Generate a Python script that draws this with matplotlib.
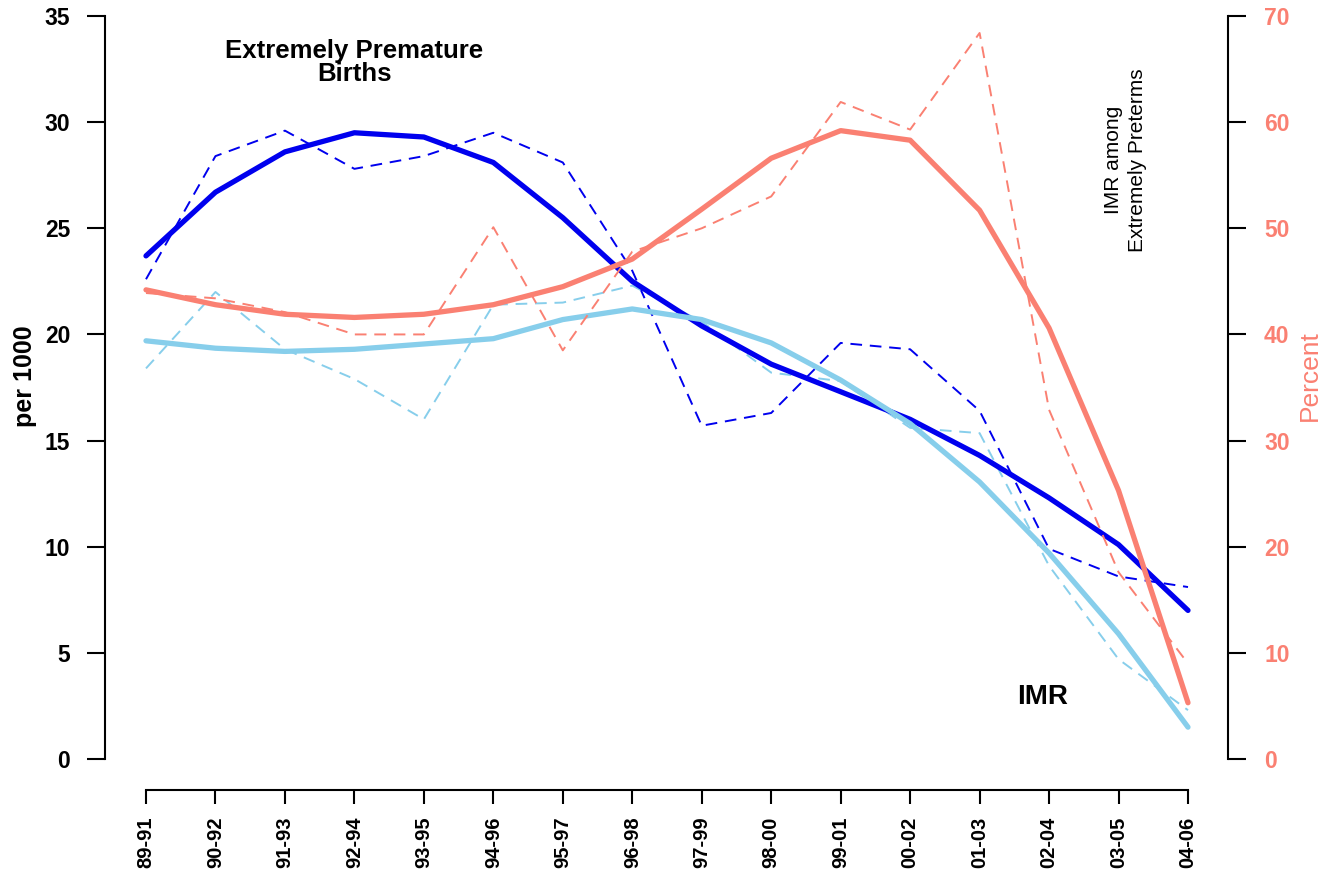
"""
Extremely premature births, IMR and IMR among extremely preterms (3-year periods)
"""
import matplotlib
matplotlib.use("Agg")
import matplotlib.pyplot as plt
import numpy as np

plt.rcParams['font.family'] = ['Liberation Sans', 'DejaVu Sans']

# periods on the x axis
periods = ["89-91", "90-92", "91-93", "92-94", "93-95", "94-96", "95-97", "96-98",
           "97-99", "98-00", "99-01", "00-02", "01-03", "02-04", "03-05", "04-06"]

# extremely premature births per 1000 (left axis)
epb_smooth = [23.7, 26.7, 28.6, 29.5, 29.3, 28.1, 25.5, 22.5,
              20.4, 18.6, 17.3, 16.0, 14.3, 12.3, 10.1, 7.0]
epb_raw = [22.6, 28.4, 29.6, 27.8, 28.4, 29.5, 28.1, 23.0,
           15.7, 16.3, 19.6, 19.3, 16.4, 9.9, 8.6, 8.1]

# infant mortality rate per 1000 (left axis)
imr_smooth = [19.7, 19.35, 19.2, 19.3, 19.55, 19.8, 20.7, 21.2,
              20.7, 19.6, 17.85, 15.8, 13.05, 9.7, 5.9, 1.5]
imr_raw = [18.4, 22.0, 19.3, 17.9, 16.0, 21.4, 21.5, 22.3,
           20.6, 18.2, 17.8, 15.6, 15.35, 9.1, 4.7, 2.3]

# IMR among extremely preterms, percent (right axis)
pct_smooth = [44.2, 42.8, 41.9, 41.6, 41.9, 42.8, 44.5, 47.1,
              51.8, 56.6, 59.2, 58.3, 51.7, 40.6, 25.3, 5.3]
pct_raw = [43.9, 43.4, 42.1, 40.0, 40.0, 50.1, 38.5, 47.8,
           50.0, 53.0, 61.9, 59.3, 68.4, 32.9, 17.6, 9.0]

DARK = "#0000EE"
LIGHT = "#87CEEB"
SALMON = "#FA8072"

x = np.arange(len(periods))

fig = plt.figure(figsize=(13.23, 8.69), dpi=100)
W, H = 1323.0, 869.0
# axes box in pixels: left 105, right 1228, top 16, bottom 790
ax = fig.add_axes([105 / W, 1 - 790 / H, (1228 - 105) / W, (790 - 16) / H])

xscale = (1188 - 146) / 15.0
ax.set_xlim(-(146 - 105) / xscale, 15 + (1228 - 1188) / xscale)
yscale = (759 - 16) / 35.0
ax.set_ylim(-(790 - 759) / yscale, 35)

solid = dict(lw=3.8, solid_capstyle='round', solid_joinstyle='round')
dashed = dict(lw=1.4, dashes=(6, 4))

ax.plot(x, epb_raw, color=DARK, **dashed)
ax.plot(x, imr_raw, color=LIGHT, **dashed)
ax.plot(x, epb_smooth, color=DARK, **solid)
ax.plot(x, imr_smooth, color=LIGHT, **solid)

ax2 = ax.twinx()
ax2.set_ylim(-2 * (790 - 759) / yscale, 70)
ax2.plot(x, pct_raw, color=SALMON, **dashed)
ax2.plot(x, pct_smooth, color=SALMON, **solid)

# R style detached axes
for a in (ax, ax2):
    a.spines['top'].set_visible(False)
ax.spines['right'].set_visible(False)
ax2.spines['left'].set_visible(False)
ax2.spines['bottom'].set_visible(False)
ax.spines['left'].set_bounds(0, 35)
ax.spines['bottom'].set_bounds(0, 15)
ax2.spines['right'].set_bounds(0, 70)
for sp in (ax.spines['left'], ax.spines['bottom'], ax2.spines['right']):
    sp.set_linewidth(1.5)

ax.set_yticks(np.arange(0, 36, 5))
ax.tick_params(axis='y', length=13, width=1.5, pad=12, labelsize=16.5)
for lab in ax.get_yticklabels():
    lab.set_fontweight('bold')

ax.set_xticks(x)
ax.set_xticklabels(periods, rotation=90, fontsize=14.5, fontweight='bold')
ax.tick_params(axis='x', length=10, width=1.5, pad=9)

ax2.set_yticks(np.arange(0, 71, 10))
ax2.tick_params(axis='y', length=13, width=1.5, pad=13, labelsize=16.5,
                labelcolor=SALMON)
for lab in ax2.get_yticklabels():
    lab.set_fontweight('bold')

# axis titles
fig.text(25 / W, 1 - 376 / H, "per 1000", rotation=90, ha='center', va='center',
         fontsize=18, fontweight='bold')
fig.text(1310 / W, 1 - 376 / H, "Percent", rotation=90, ha='center', va='center',
         fontsize=19, color=SALMON)

# in-plot labels
ax.text(3.0, 32.8, "Extremely Premature\nBirths", ha='center', va='center',
        fontsize=18.5, fontweight='bold', linespacing=0.95)
ax.text(12.9, 2.9, "IMR", ha='center', va='center', fontsize=20, fontweight='bold')
ax.text(14.1, 28.2, "IMR among\nExtremely Preterms", rotation=90, ha='center',
        va='center', fontsize=15, linespacing=1.3)

fig.savefig("out.png", dpi=100)
